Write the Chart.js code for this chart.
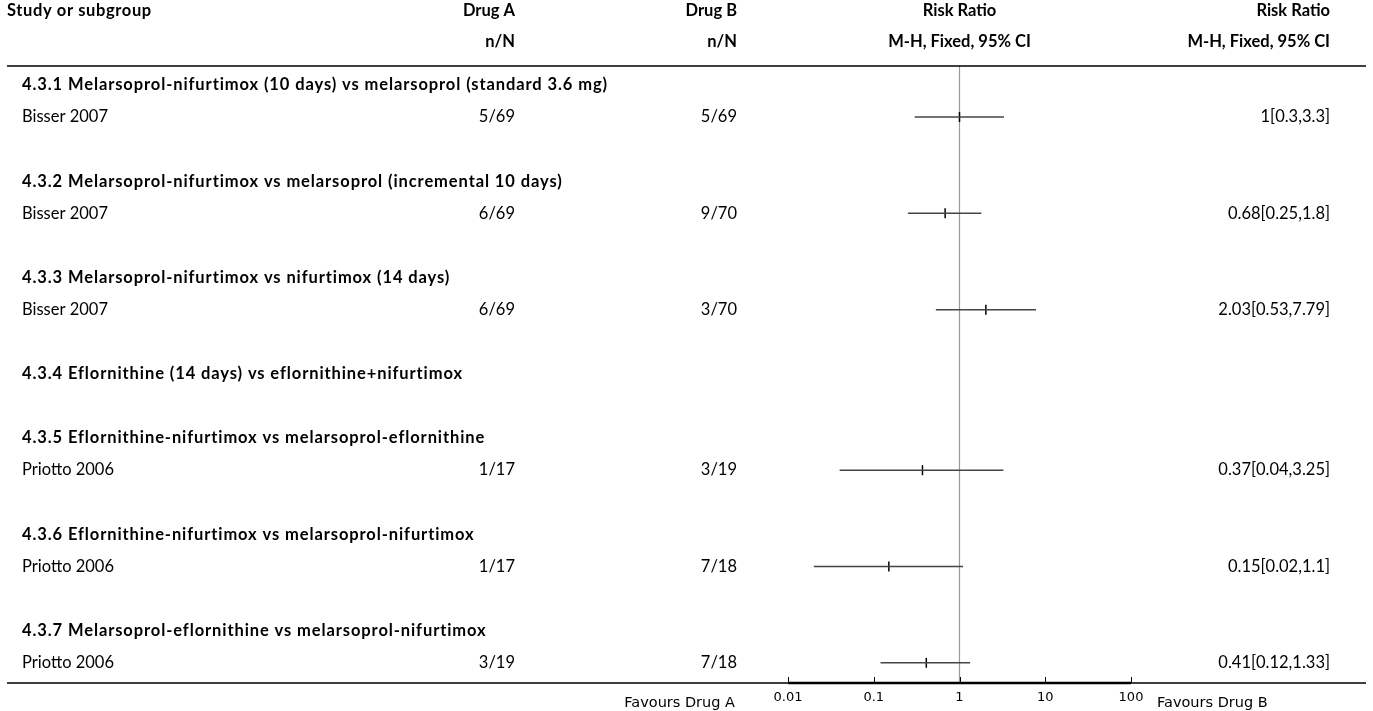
<!DOCTYPE html>
<html>
<head>
<meta charset="utf-8">
<script src="https://cdn.jsdelivr.net/npm/chart.js@4"></script>
<style>
  body { margin: 0; background: #fff; }
  #wrap { width: 1373px; height: 711px; position: relative; }
</style>
</head>
<body>
<div id="wrap"><canvas id="forest"></canvas></div>
<script>
// Data
const groupTitles = [
    '4.3.1 Melarsoprol-nifurtimox (10 days) vs melarsoprol (standard 3.6 mg)',
    '4.3.2 Melarsoprol-nifurtimox vs melarsoprol (incremental 10 days)',
    '4.3.3 Melarsoprol-nifurtimox vs nifurtimox (14 days)',
    '4.3.4 Eflornithine (14 days) vs eflornithine+nifurtimox',
    '4.3.5 Eflornithine-nifurtimox vs melarsoprol-eflornithine',
    '4.3.6 Eflornithine-nifurtimox vs melarsoprol-nifurtimox',
    '4.3.7 Melarsoprol-eflornithine vs melarsoprol-nifurtimox'
];
const groupRows = [0, 3, 6, 9, 11, 14, 17];

const studyNames = ['Bisser 2007', 'Bisser 2007', 'Bisser 2007', 'Priotto 2006', 'Priotto 2006', 'Priotto 2006'];
const studyRows = [1, 4, 7, 12, 15, 18];
const drugA = ['5/69', '6/69', '6/69', '1/17', '1/17', '3/19'];
const drugB = ['5/69', '9/70', '3/70', '3/19', '7/18', '7/18'];
const riskRatio = [1, 0.68, 2.03, 0.37, 0.15, 0.41];
const ciLow = [0.3, 0.25, 0.53, 0.04, 0.02, 0.12];
const ciHigh = [3.3, 1.8, 7.79, 3.25, 1.1, 1.33];

const tickValues = [0.01, 0.1, 1, 10, 100];
const tickLabels = ['0.01', '0.1', '1', '10', '100'];

// Fonts
const FONT = 'Lato, "Noto Sans", sans-serif';
const bodyFont = '16.5px ' + FONT;
const boldFont = 'bold 16.5px ' + FONT;
const axisFont = '13px "DejaVu Sans", sans-serif';
const favoursFont = '14.5px "DejaVu Sans", sans-serif';

// Column anchors
const COL_LEFT = 7;
const COL_TEXT = 22;
const COL_A = 515;
const COL_B = 737;
const COL_RR = 1330;
const RULE_RIGHT = 1366;

// CI lines, one dataset per study
const ciSets = studyNames.map((name, i) => ({
    type: 'line',
    label: name,
    data: [{ x: ciLow[i], y: studyRows[i] }, { x: ciHigh[i], y: studyRows[i] }],
    borderColor: '#444',
    borderWidth: 1.5,
    pointRadius: 0,
    showLine: true
}));

const pointSet = {
    type: 'scatter',
    label: 'Risk ratio',
    data: riskRatio.map((v, i) => ({ x: v, y: studyRows[i] })),
    pointStyle: 'line',
    rotation: 90,
    radius: 5,
    borderColor: '#000',
    borderWidth: 1.5
};

function txt(ctx, s, x, y, align, font, spacing) {
    ctx.font = font;
    ctx.textAlign = align;
    ctx.letterSpacing = spacing || '0px';
    ctx.fillText(s, x, y);
    ctx.letterSpacing = '0px';
}

const forestPlugin = {
    id: 'forestText',
    beforeDatasetsDraw(chart) {
        const { ctx, chartArea, scales } = chart;
        const x1 = scales.x.getPixelForValue(1);
        ctx.save();
        ctx.strokeStyle = '#999';
        ctx.lineWidth = 1.2;
        ctx.beginPath();
        ctx.moveTo(x1, chartArea.top);
        ctx.lineTo(x1, chartArea.bottom);
        ctx.stroke();
        ctx.restore();
    },
    afterDraw(chart) {
        const { ctx, chartArea, scales } = chart;
        const yPx = r => scales.y.getPixelForValue(r);
        const midX = (chartArea.left + chartArea.right) / 2;
        ctx.save();
        ctx.fillStyle = '#000';
        ctx.textBaseline = 'middle';

        // header
        const h1 = 11, h2 = 42;
        txt(ctx, 'Study or subgroup', COL_LEFT, h1, 'left', boldFont, '0.6px');
        txt(ctx, 'Drug A', COL_A, h1, 'right', boldFont);
        txt(ctx, 'n/N', COL_A, h2, 'right', boldFont);
        txt(ctx, 'Drug B', COL_B, h1, 'right', boldFont);
        txt(ctx, 'n/N', COL_B, h2, 'right', boldFont);
        txt(ctx, 'Risk Ratio', midX, h1, 'center', boldFont);
        txt(ctx, 'M-H, Fixed, 95% CI', midX, h2, 'center', boldFont);
        txt(ctx, 'Risk Ratio', COL_RR, h1, 'right', boldFont);
        txt(ctx, 'M-H, Fixed, 95% CI', COL_RR, h2, 'right', boldFont);

        // rules
        ctx.strokeStyle = '#000';
        ctx.lineWidth = 1.5;
        ctx.beginPath();
        ctx.moveTo(COL_LEFT, chartArea.top);
        ctx.lineTo(RULE_RIGHT, chartArea.top);
        ctx.moveTo(COL_LEFT, chartArea.bottom);
        ctx.lineTo(RULE_RIGHT, chartArea.bottom);
        ctx.stroke();

        // groups and studies
        groupTitles.forEach((g, i) => txt(ctx, g, COL_TEXT, yPx(groupRows[i]), 'left', boldFont, '0.9px'));
        studyNames.forEach((s, i) => {
            const y = yPx(studyRows[i]);
            txt(ctx, s, COL_TEXT, y, 'left', bodyFont);
            txt(ctx, drugA[i], COL_A, y, 'right', bodyFont);
            txt(ctx, drugB[i], COL_B, y, 'right', bodyFont);
            txt(ctx, `${riskRatio[i]}[${ciLow[i]},${ciHigh[i]}]`, COL_RR, y, 'right', bodyFont);
        });

        // x axis
        const xa = scales.x.getPixelForValue(tickValues[0]);
        const xb = scales.x.getPixelForValue(tickValues[tickValues.length - 1]);
        const yb = chartArea.bottom;
        ctx.lineWidth = 2.5;
        ctx.beginPath();
        ctx.moveTo(xa, yb);
        ctx.lineTo(xb, yb);
        ctx.stroke();
        ctx.lineWidth = 1;
        ctx.beginPath();
        tickValues.forEach(v => {
            const x = Math.round(scales.x.getPixelForValue(v)) + 0.5;
            ctx.moveTo(x, yb);
            ctx.lineTo(x, yb - 6);
        });
        ctx.stroke();
        tickValues.forEach((v, i) => txt(ctx, tickLabels[i], scales.x.getPixelForValue(v), yb + 15, 'center', axisFont));
        txt(ctx, 'Favours Drug A', xa - 53, yb + 20, 'right', favoursFont);
        txt(ctx, 'Favours Drug B', xb + 26, yb + 20, 'left', favoursFont);
        ctx.restore();
    }
};

new Chart(document.getElementById('forest'), {
    data: { datasets: [...ciSets, pointSet] },
    options: {
        responsive: true,
        maintainAspectRatio: false,
        animation: false,
        layout: { padding: { left: 788, right: 242, top: 66, bottom: 28 } },
        plugins: { legend: { display: false }, tooltip: { enabled: false } },
        scales: {
            x: { type: 'logarithmic', min: 0.01, max: 100, display: false },
            y: { type: 'linear', min: -0.59, max: 18.63, reverse: true, display: false }
        }
    },
    plugins: [forestPlugin]
});
</script>
</body>
</html>
